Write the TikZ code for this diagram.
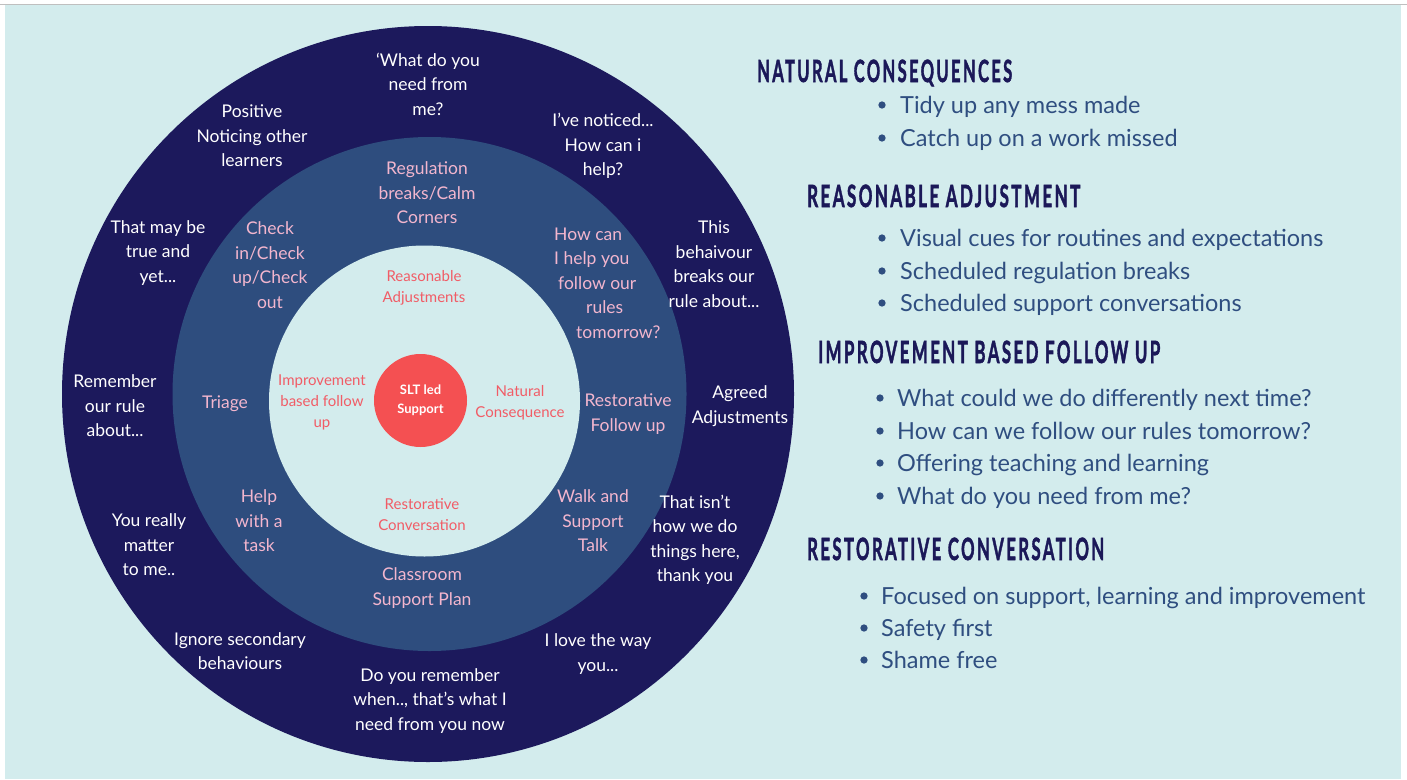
\documentclass[tikz,border=0pt]{standalone}
\usepackage{fontspec}
\usepackage{graphicx}
\setmainfont{Lato}
\newfontfamily\headfont[LetterSpace=14,BoldFeatures={FakeBold=2}]{Lato}
\definecolor{bgc}{RGB}{211,236,237}
\definecolor{outc}{RGB}{28,25,92}
\definecolor{midc}{RGB}{46,77,126}
\definecolor{slt}{RGB}{244,80,82}
\definecolor{pinktxt}{RGB}{243,182,206}
\definecolor{redtxt}{RGB}{241,92,102}
\definecolor{headc}{RGB}{27,24,88}
\definecolor{itemc}{RGB}{47,78,128}
\newcommand{\ringfont}{\fontsize{17.5}{24.5}\selectfont}
\newcommand{\innfont}{\fontsize{15}{21}\selectfont}
\newcommand{\itemfont}{\fontsize{23.5}{28}\selectfont}
\newcommand{\headtxt}[2]{\resizebox{#1}{22.4pt}{\headfont\bfseries #2}}
\tikzset{
  outer/.style={text=white, font=\ringfont, align=center, inner sep=0pt},
  mid/.style={text=pinktxt, font=\ringfont, align=center, inner sep=0pt},
  inn/.style={text=redtxt, font=\innfont, align=center, inner sep=0pt},
  head/.style={anchor=base west, inner sep=0pt, text=headc},
  item/.style={anchor=base west, inner sep=0pt, text=itemc, font=\itemfont},
  dot/.style={circle, fill=itemc, minimum size=7.3pt, inner sep=0pt},
}
\begin{document}
\begin{tikzpicture}[x=1pt,y=-1pt]
\useasboundingbox (0,0) rectangle (1407,779);
\fill[white] (0,0) rectangle (1407,779);
\fill[bgc] (5,5) rectangle (1401,779);
\draw[gray!50, line width=1pt] (0,4.5) -- (1407,4.5);
% rings
\fill[outc] (428,394) ellipse [x radius=366, y radius=368];
\fill[midc] (429.5,394) circle [radius=257];
\fill[bgc] (424.5,401) circle [radius=155.5];
\node[circle, fill=slt, minimum size=93pt, inner sep=0pt, text=white, font=\fontsize{13}{19}\selectfont\bfseries, align=center] (slt) at (420.5,400.5) {SLT led\\Support};
% outer ring
\node[outer] (o1) at (428,84) {‘What do you\\need from\\me?};
\node[outer] (o2) at (252,136) {Positive\\Noticing other\\learners};
\node[outer] (o3) at (603,146) {I’ve noticed...\\How can i\\help?};
\node[outer] (o4) at (158,253) {That may be\\true and\\yet...};
\node[outer] (o5) at (714,264) {This\\behaivour\\breaks our\\rule about...};
\node[outer] (o6) at (115,406) {Remember\\our rule\\about...};
\node[outer] (o7) at (740,406) {Agreed\\Adjustments};
\node[outer] (o8) at (149,545) {You really\\matter\\to me..};
\node[outer] (o9) at (695,540) {That isn’t\\how we do\\things here,\\thank you};
\node[outer] (o10) at (240,651) {Ignore secondary\\behaviours};
\node[outer] (o11) at (598,654) {I love the way\\you...};
\node[outer] (o12) at (430,701) {Do you remember\\when.., that’s what I\\need from you now};
% middle ring
\node[mid] (m1) at (427,193) {Regulation\\breaks/Calm\\Corners};
\node[mid] (m2) at (270,265) {Check\\in/Check\\up/Check\\out};
\node[mid, align=left, anchor=west] (m3) at (554,283) {How can\\I help you\\\hspace*{4pt}follow our\\\hspace*{32pt}rules\\\hspace*{22pt}tomorrow?};
\node[mid] (m4) at (225,404) {Triage};
\node[mid] (m5) at (628,414) {Restorative\\Follow up};
\node[mid] (m6) at (259,521) {Help\\with a\\task};
\node[mid] (m7) at (593,521) {Walk and\\Support\\Talk};
\node[mid] (m8) at (422,588) {Classroom\\Support Plan};
% inner
\node[inn] (i1) at (424,288) {Reasonable\\Adjustments};
\node[inn] (i2) at (322,402) {Improvement\\based follow\\up};
\node[inn] (i3) at (520,403) {Natural\\Consequence};
\node[inn] (i4) at (422,515) {Restorative\\Conversation};
% right side
\node[head] (h1) at (757,82) {\headtxt{255pt}{NATURAL CONSEQUENCES}};
\node[dot] (d11) at (882,105) {};
\node[item] (t11) at (900,113) {Tidy up any mess made};
\node[dot] (d12) at (882,138) {};
\node[item] (t12) at (900,146) {Catch up on a work missed};
\node[head] (h2) at (807,207) {\headtxt{273pt}{REASONABLE ADJUSTMENT}};
\node[dot] (d21) at (882,238) {};
\node[item] (t21) at (900,246) {Visual cues for routines and expectations};
\node[dot] (d22) at (882,271) {};
\node[item] (t22) at (900,279) {Scheduled regulation breaks};
\node[dot] (d23) at (882,303) {};
\node[item] (t23) at (900,311) {Scheduled support conversations};
\node[head] (h3) at (818,363) {\headtxt{342pt}{IMPROVEMENT BASED FOLLOW UP}};
\node[dot] (d31) at (880,398) {};
\node[item] (t31) at (897,406) {What could we do differently next time?};
\node[dot] (d32) at (880,431) {};
\node[item] (t32) at (897,439) {How can we follow our rules tomorrow?};
\node[dot] (d33) at (880,463) {};
\node[item] (t33) at (897,471) {Offering teaching and learning};
\node[dot] (d34) at (880,496) {};
\node[item] (t34) at (897,504) {What do you need from me?};
\node[head] (h4) at (807,560) {\headtxt{297pt}{RESTORATIVE CONVERSATION}};
\node[dot] (d41) at (864,596) {};
\node[item] (t41) at (881,604) {Focused on support, learning and improvement};
\node[dot] (d42) at (864,628) {};
\node[item] (t42) at (881,636) {Safety first};
\node[dot] (d43) at (864,660) {};
\node[item] (t43) at (881,668) {Shame free};
\end{tikzpicture}
\end{document}
